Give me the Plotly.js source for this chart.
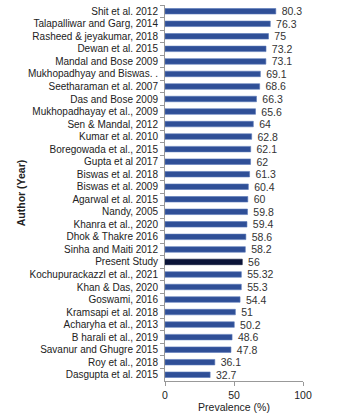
<!DOCTYPE html>
<html>
<head>
<meta charset="utf-8">
<script src="https://cdn.plot.ly/plotly-3.0.1.min.js"></script>
<style>
  html, body { margin: 0; padding: 0; background: #fff; }
  #chart { width: 340px; height: 418px; }
</style>
</head>
<body>
<div id="chart"></div>
<script>
// Studies, listed top to bottom
const authors = [
  "Shit et al. 2012",
  "Talapalliwar and Garg, 2014",
  "Rasheed & jeyakumar, 2018",
  "Dewan et al. 2015",
  "Mandal and Bose 2009",
  "Mukhopadhyay and Biswas. .",
  "Seetharaman et al. 2007",
  "Das and Bose 2009",
  "Mukhopadhayay et al., 2009",
  "Sen & Mandal, 2012",
  "Kumar et al. 2010",
  "Boregowada et al., 2015",
  "Gupta et al 2017",
  "Biswas et al. 2018",
  "Biswas et al. 2009",
  "Agarwal et al. 2015",
  "Nandy, 2005",
  "Khanra et al., 2020",
  "Dhok & Thakre 2016",
  "Sinha and Maiti 2012",
  "Present Study",
  "Kochupurackazzl et al., 2021",
  "Khan & Das, 2020",
  "Goswami, 2016",
  "Kramsapi et al. 2018",
  "Acharyha et al., 2013",
  "B harali et al., 2019",
  "Savanur and Ghugre 2015",
  "Roy et al., 2018",
  "Dasgupta et al. 2015"
];

// Prevalence (%) reported by each study
const prevalence = [
  80.3, 76.3, 75, 73.2, 73.1, 69.1, 68.6, 66.3, 65.6, 64,
  62.8, 62.1, 62, 61.3, 60.4, 60, 59.8, 59.4, 58.6, 58.2,
  56, 55.32, 55.3, 54.4, 51, 50.2, 48.6, 47.8, 36.1, 32.7
];

const xTicks = [0, 50, 100];
const highlighted = "Present Study";

const barColors = authors.map(a => a === highlighted ? "#0b1438" : "#2f4f97");
const edgeColors = authors.map(a => a === highlighted ? "#0b1438" : "#5a78b8");

const trace = {
  type: "bar",
  orientation: "h",
  y: authors,
  x: prevalence,
  // small gap between bar end and its value label
  text: prevalence.map(v => "\u00a0\u00a0" + v),
  textposition: "outside",
  constraintext: "none",
  cliponaxis: false,
  textfont: { family: "Liberation Sans, Arial, sans-serif", size: 10.5, color: "#333" },
  marker: { color: barColors, line: { color: edgeColors, width: 0.6 } },
  hoverinfo: "x+y"
};

const layout = {
  width: 340,
  height: 418,
  margin: { l: 165, r: 37, t: 5, b: 37 },
  paper_bgcolor: "#fff",
  plot_bgcolor: "#fff",
  font: { family: "Liberation Sans, Arial, sans-serif", size: 10, color: "#222" },
  showlegend: false,
  bargap: 0.56,
  xaxis: {
    range: [0, 100],
    tickvals: xTicks,
    ticktext: xTicks.map(String),
    showgrid: false,
    zeroline: false,
    showline: true,
    linecolor: "#999",
    linewidth: 1,
    ticks: "outside",
    ticklen: 4,
    tickcolor: "#999",
    tickfont: { size: 10.5, color: "#222" },
    automargin: false,
    title: { text: "Prevalence (%)", font: { size: 10.5, color: "#222" }, standoff: 4 }
  },
  yaxis: {
    type: "category",
    categoryorder: "array",
    categoryarray: authors,
    autorange: "reversed",
    showgrid: false,
    zeroline: false,
    showline: true,
    linecolor: "#999",
    linewidth: 1,
    ticks: "outside",
    tickson: "boundaries",
    ticklen: 4,
    tickcolor: "#999",
    ticklabelstandoff: 4,
    tickfont: { size: 10, color: "#222" },
    automargin: false,
    title: { text: "<b>Author (Year)</b>", font: { size: 10.5, color: "#222" }, standoff: 0 }
  }
};

Plotly.newPlot("chart", [trace], layout, { displayModeBar: false, staticPlot: true });
</script>
</body>
</html>
